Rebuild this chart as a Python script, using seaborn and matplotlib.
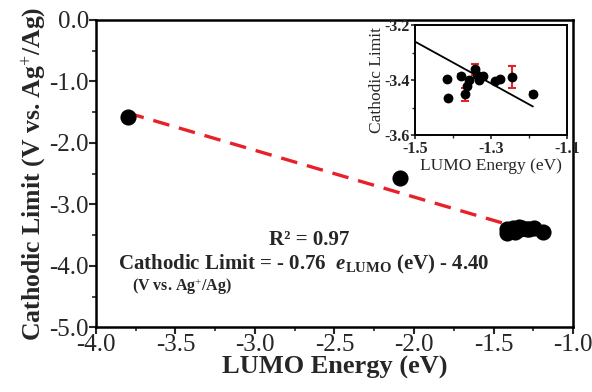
import matplotlib
matplotlib.use("Agg")
import matplotlib.pyplot as plt
from matplotlib.ticker import MultipleLocator
import numpy as np
import pandas as pd
import seaborn as sns

# ---- data ----
main_x = [-3.80, -2.09]
main_y = [-1.58, -2.57]

inset_x = [-1.417, -1.414, -1.379, -1.368, -1.364, -1.357, -1.342, -1.337,
           -1.333, -1.320, -1.289, -1.276, -1.245, -1.190]
inset_y = [-3.396, -3.464, -3.384, -3.452, -3.422, -3.398, -3.360, -3.380,
           -3.398, -3.386, -3.404, -3.396, -3.389, -3.449]
inset_err = [0.0, 0.0, 0.008, 0.022, 0.0, 0.0, 0.02, 0.0,
             0.0, 0.0, 0.0, 0.0, 0.04, 0.006]

fit_slope = -0.76
fit_intercept = -4.40

x_ticks = [-4.0, -3.5, -3.0, -2.5, -2.0, -1.5, -1.0]
y_ticks = [0.0, -1.0, -2.0, -3.0, -4.0, -5.0]
inset_xticks = [-1.5, -1.3, -1.1]
inset_yticks = [-3.2, -3.4, -3.6]

sns.set_theme(style="ticks")
plt.rcParams['font.family'] = ['Liberation Serif', 'DejaVu Serif']
plt.rcParams['mathtext.fontset'] = 'custom'
plt.rcParams['mathtext.rm'] = 'Liberation Serif'
plt.rcParams['mathtext.it'] = 'Liberation Serif:italic:bold'
plt.rcParams['mathtext.bf'] = 'Liberation Serif:bold'

fig = plt.figure(figsize=(5.92, 3.92), dpi=100)
ax = fig.add_axes([0.162, 0.165, 0.806, 0.784])

all_x = main_x + inset_x
all_y = main_y + inset_y
df_pts = pd.DataFrame({"x": all_x, "y": all_y})
xs = np.array([min(all_x), max(all_x)])
df_fit = pd.DataFrame({"x": xs, "y": fit_slope * xs + fit_intercept})

sns.lineplot(data=df_fit, x="x", y="y", ax=ax, color="#e8202a", lw=2.4,
             linestyle=(0, (5, 3)), zorder=2)
sns.scatterplot(data=df_pts, x="x", y="y", ax=ax, color="black", s=135,
                edgecolor="black", linewidth=0, zorder=3)

ax.set_xlim(-4.0, -1.0)
ax.set_ylim(-5.0, 0.0)
ax.set_xticks(x_ticks)
ax.set_yticks(y_ticks)
ax.xaxis.set_minor_locator(MultipleLocator(0.25))
ax.yaxis.set_minor_locator(MultipleLocator(0.5))
ax.set_xticklabels([f"{v:.1f}" for v in x_ticks], fontsize=18)
ax.set_yticklabels([f"{v:.1f}" for v in y_ticks], fontsize=18)
ax.tick_params(which="major", direction="out", length=5, width=1.5, pad=0)
ax.tick_params(which="minor", direction="out", length=3, width=1.2)
for sp in ax.spines.values():
    sp.set_linewidth(1.8)
    sp.set_color("black")
ax.set_xlabel("LUMO Energy (eV)", fontsize=19, fontweight="bold", labelpad=0)
ax.set_ylabel("Cathodic Limit (V vs. Ag$^{+}$/Ag)", fontsize=18.5,
              fontweight="bold", labelpad=1)

ax.text(-2.66, -3.58, "R² = 0.97", fontsize=15, fontweight="bold",
        ha="center", va="center")
ax.text(-3.86, -3.98,
        "Cathodic Limit = - 0.76  $e_{\\mathbf{LUMO}}$ (eV) - 4.40",
        fontsize=15, fontweight="bold", ha="left", va="center")
ax.text(-3.77, -4.34, "(V vs. Ag$^{+}$/Ag)", fontsize=11.5, fontweight="bold",
        ha="left", va="center")

# ---- inset ----
axi = fig.add_axes([0.701, 0.655, 0.257, 0.281])
df_in = pd.DataFrame({"x": inset_x, "y": inset_y})
xi = np.array([-1.5, max(inset_x)])
df_fit_in = pd.DataFrame({"x": xi, "y": fit_slope * xi + fit_intercept})
sns.lineplot(data=df_fit_in, x="x", y="y", ax=axi, color="black", lw=1.3, zorder=2)
ex = [x for x, e in zip(inset_x, inset_err) if e > 0]
ey = [y for y, e in zip(inset_y, inset_err) if e > 0]
ee = [e for e in inset_err if e > 0]
axi.errorbar(ex, ey, yerr=ee, fmt="none", ecolor="#e8202a", elinewidth=1.5,
             capsize=3, capthick=1.5, zorder=3)
sns.scatterplot(data=df_in, x="x", y="y", ax=axi, color="black", s=50,
                linewidth=0, zorder=4)
axi.set_xlim(-1.5, -1.1)
axi.set_ylim(-3.6, -3.2)
axi.set_xticks(inset_xticks)
axi.set_yticks(inset_yticks)
axi.xaxis.set_minor_locator(MultipleLocator(0.1))
axi.yaxis.set_minor_locator(MultipleLocator(0.1))
axi.set_xticklabels([f"{v:.1f}" for v in inset_xticks], fontsize=11.5, fontweight="bold")
axi.set_yticklabels([f"{v:.1f}" for v in inset_yticks], fontsize=11.5, fontweight="bold")
axi.tick_params(which="major", direction="out", length=3, width=1.2)
axi.tick_params(axis="x", which="major", pad=1.5)
axi.tick_params(axis="y", which="major", pad=0.5)
axi.tick_params(which="minor", direction="out", length=2, width=1)
for sp in axi.spines.values():
    sp.set_linewidth(1.4)
    sp.set_color("black")
axi.set_xlabel("LUMO Energy (eV)", fontsize=12.5, labelpad=0.5)
axi.set_ylabel("Cathodic Limit", fontsize=12.5, labelpad=0)

fig.savefig("out.png", dpi=100)
